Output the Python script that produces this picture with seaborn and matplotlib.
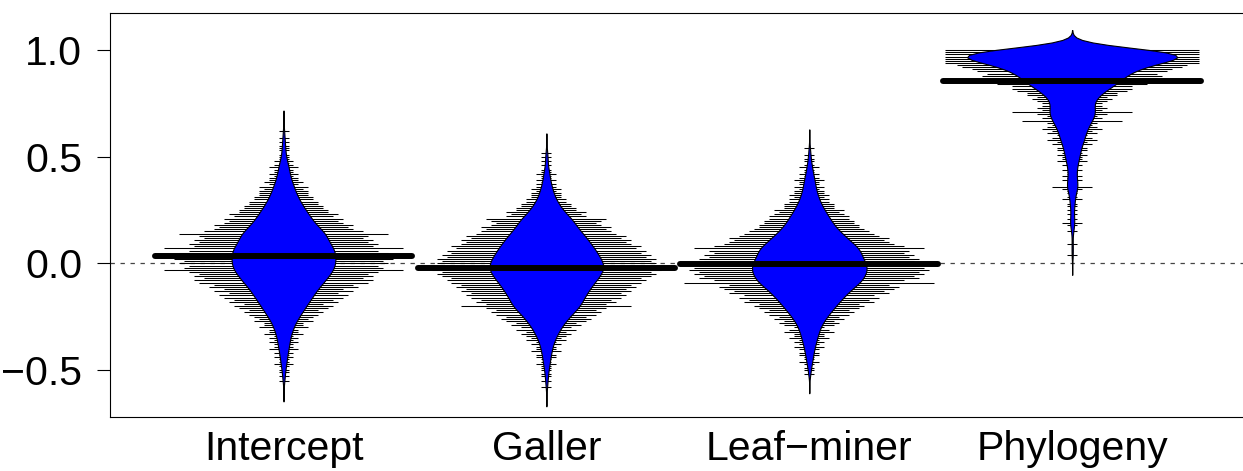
import numpy as np
import pandas as pd
import matplotlib
matplotlib.use("Agg")
import matplotlib.pyplot as plt
import seaborn as sns

# terms on the x axis
terms = ["Intercept", "Galler", "Leaf\u2212miner", "Phylogeny"]

# posterior samples, rounded to 0.01: lowest value and count per 0.01 step
intercept_start = -0.55
intercept_counts = [
    1, 0, 1, 0, 1, 1, 0, 1, 2, 1,
    1, 2, 1, 2, 1, 3, 2, 2, 3, 2,
    3, 2, 4, 3, 3, 5, 4, 4, 6, 5,
    6, 7, 8, 7, 9, 10, 8, 11, 10, 12,
    13, 11, 14, 12, 15, 14, 17, 18, 16, 18,
    17, 19, 24, 20, 19, 21, 20, 22, 21, 20,
    21, 19, 24, 18, 19, 17, 18, 16, 17, 21,
    16, 14, 13, 14, 12, 11, 12, 10, 11, 9,
    9, 8, 8, 7, 7, 6, 6, 5, 5, 5,
    4, 5, 3, 4, 3, 3, 2, 3, 2, 2,
    3, 2, 1, 2, 1, 1, 1, 0, 1, 1,
    1, 0, 1, 0, 1, 0, 0, 1,
]

galler_start = -0.58
galler_counts = [
    1, 0, 0, 1, 0, 1, 1, 0, 1, 1,
    1, 2, 1, 1, 2, 2, 1, 3, 2, 2,
    3, 2, 4, 3, 4, 5, 4, 6, 5, 7,
    6, 8, 9, 8, 10, 11, 10, 12, 17, 12,
    14, 13, 15, 16, 15, 17, 16, 18, 17, 19,
    20, 19, 21, 22, 21, 23, 22, 24, 22, 21,
    22, 20, 21, 19, 20, 18, 19, 17, 16, 17,
    15, 16, 14, 13, 12, 13, 11, 10, 11, 12,
    8, 7, 8, 6, 6, 5, 5, 4, 4, 3,
    3, 3, 2, 3, 2, 2, 1, 2, 1, 1,
    2, 1, 1, 0, 1, 0, 1, 0, 1, 0, 1,
]

leafminer_start = -0.52
leafminer_counts = [
    1, 0, 1, 1, 0, 1, 2, 1, 1, 2,
    2, 1, 2, 3, 2, 3, 2, 4, 3, 3,
    5, 4, 3, 5, 6, 5, 7, 6, 8, 9,
    8, 10, 11, 10, 13, 12, 14, 13, 16, 15,
    17, 18, 16, 25, 19, 22, 21, 23, 22, 24,
    23, 22, 24, 21, 22, 20, 21, 19, 20, 23,
    19, 17, 16, 15, 16, 14, 13, 12, 11, 10,
    10, 9, 9, 8, 8, 7, 6, 7, 5, 5,
    5, 4, 4, 3, 4, 3, 3, 2, 3, 2,
    2, 3, 2, 1, 2, 1, 1, 2, 1, 0,
    1, 1, 0, 1, 0, 0, 1,
]

phylogeny_start = 0.04
phylogeny_counts = [
    1, 0, 0, 0, 0, 1, 0, 0, 0, 0,
    0, 1, 0, 0, 1, 2, 0, 1, 0, 1,
    0, 1, 0, 1, 1, 0, 2, 1, 0, 1,
    1, 2, 4, 1, 1, 2, 1, 2, 1, 1,
    2, 1, 2, 1, 3, 2, 2, 3, 2, 3,
    3, 2, 4, 3, 5, 4, 3, 5, 4, 6,
    5, 4, 5, 10, 6, 5, 7, 12, 6, 7,
    6, 6, 7, 8, 7, 9, 9, 11, 12, 12,
    15, 16, 14, 17, 18, 17, 19, 20, 22, 23,
    27, 32, 36, 40, 44, 48, 50,
]

# overall mean line of each bean
bean_means = [0.035, -0.02, -0.003, 0.855]

starts = [intercept_start, galler_start, leafminer_start, phylogeny_start]
counts_list = [intercept_counts, galler_counts, leafminer_counts, phylogeny_counts]

frames = []
for term, start, counts in zip(terms, starts, counts_list):
    vals = np.round(start + 0.01 * np.arange(len(counts)), 2)
    frames.append(pd.DataFrame({"term": term, "value": np.repeat(vals, counts)}))
df = pd.concat(frames, ignore_index=True)

sns.set_style("ticks")
plt.rcParams["font.family"] = ["Liberation Sans", "DejaVu Sans"]
plt.rcParams["text.color"] = "black"
plt.rcParams["xtick.color"] = "black"
plt.rcParams["ytick.color"] = "black"

fig = plt.figure(figsize=(12.43, 4.71), dpi=100)
ax = fig.add_axes([110 / 1243, 54 / 471, 1135.7 / 1243, 404 / 471])

# dotted reference line at zero
ax.axhline(0, color="#444444", lw=0.9, ls=(0, (3.5, 4.5)), zorder=0.5)

# bean lines: one per value, longer for repeated values
unit = 0.019
cap = 0.483
for i, (start, counts) in enumerate(zip(starts, counts_list)):
    vals = np.round(start + 0.01 * np.arange(len(counts)), 2)
    c = np.array(counts)
    keep = c > 0
    half = np.minimum(c[keep] * unit, cap)
    ax.hlines(vals[keep], i - half, i + half, color="black", lw=0.75, zorder=1)

# beans, widest part scaled as in the picture
bean_widths = [0.395, 0.432, 0.436, 0.8]
for term, w in zip(terms, bean_widths):
    sns.violinplot(data=df[df["term"] == term], x="term", y="value", order=terms,
                   color="blue", saturation=1, linecolor="black", linewidth=0.8,
                   inner=None, cut=3.3, bw_adjust=0.6, density_norm="width",
                   width=w, ax=ax, zorder=2)

for i, m in enumerate(bean_means):
    ax.plot([i - 0.49, i + 0.49], [m, m], color="black", lw=4.3,
            solid_capstyle="round", zorder=3)

ax.set_xlim(-0.66, 3.66)
ax.set_ylim(-0.72, 1.174)
ax.set_xlabel("")
ax.set_ylabel("")
ax.set_xticks(range(len(terms)))
ax.set_xticklabels(terms)
ax.set_yticks([-0.5, 0.0, 0.5, 1.0])
ax.set_yticklabels(["\u22120.5", "0.0", "0.5", "1.0"])
ax.tick_params(axis="y", length=9.4, width=0.8, pad=10.5, labelsize=29.5,
               colors="black")
ax.tick_params(axis="x", length=0, pad=9, labelsize=29.5, colors="black")
for s in ax.spines.values():
    s.set_visible(True)
    s.set_color("black")
    s.set_linewidth(0.8)

fig.savefig("out.png", dpi=100)
